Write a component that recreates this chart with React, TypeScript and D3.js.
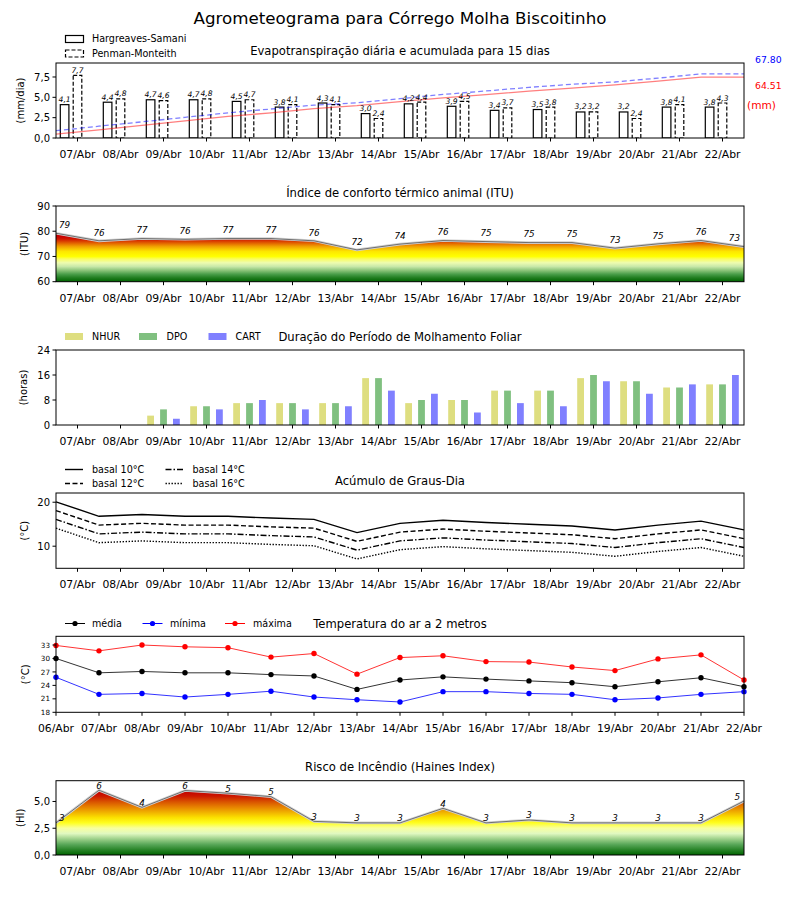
import React from 'react';
import * as d3 from 'd3';

// ---------- DATA ----------
const dayLabels = ['06/Abr','07/Abr','08/Abr','09/Abr','10/Abr','11/Abr','12/Abr','13/Abr','14/Abr','15/Abr','16/Abr','17/Abr','18/Abr','19/Abr','20/Abr','21/Abr','22/Abr'];
const forecastDays = dayLabels.slice(1);

const etHargreaves = [4.1,4.4,4.7,4.7,4.5,3.8,4.3,3.0,4.2,3.9,3.4,3.5,3.2,3.2,3.8,3.8];
const etPenman = [7.7,4.8,4.6,4.8,4.7,4.1,4.1,2.4,4.4,4.5,3.7,3.8,3.2,2.4,4.1,4.3];
const etCumHargreaves = [4.2,8.6,13.4,18.2,22.8,26.7,31.1,34.2,38.5,42.5,46.0,49.6,52.9,56.2,60.2,64.51];
const etCumPenman = [7.7,12.5,17.1,21.9,26.6,30.7,34.8,37.2,41.6,46.1,49.8,53.6,56.9,59.3,63.4,67.80];

const ituValues = [79.2,76.2,77.1,76.8,77.1,77.1,76.2,72.6,74.9,76.3,75.9,75.5,75.5,73.3,75.0,76.3,73.9];

const wetNHUR = [0,0,3,6,7,7,7,15,7,8,11,11,15,14,12,13];
const wetDPO = [0,0,5,6,7,7,7,15,8,8,11,11,16,14,12,13];
const wetCART = [0,0,2,5,8,5,6,11,10,4,7,6,14,10,13,16];

const gd10 = [20.1,16.8,17.2,16.8,16.8,16.4,16.1,13.1,15.2,15.9,15.4,15.0,14.6,13.7,14.8,15.7,13.7];
const gd12 = [18.1,14.8,15.2,14.8,14.8,14.4,14.1,11.1,13.2,13.9,13.4,13.0,12.6,11.7,12.8,13.7,11.7];
const gd14 = [16.1,12.8,13.2,12.8,12.8,12.4,12.1,9.1,11.2,11.9,11.4,11.0,10.6,9.7,10.8,11.7,9.7];
const gd16 = [14.1,10.8,11.2,10.8,10.8,10.4,10.1,7.1,9.2,9.9,9.4,9.0,8.6,7.7,8.8,9.7,7.7];

const tMean = [30.0,26.8,27.1,26.8,26.8,26.4,26.1,23.1,25.2,25.9,25.4,25.0,24.6,23.7,24.8,25.7,23.7];
const tMin = [25.8,22.0,22.2,21.4,22.0,22.7,21.4,20.8,20.3,22.6,22.6,22.2,22.0,20.8,21.2,22.0,22.6];
const tMax = [32.9,31.7,33.0,32.6,32.4,30.3,31.1,26.5,30.2,30.6,29.3,29.2,28.1,27.3,29.9,30.8,25.2];

const hainesValues = [3.0,6.05,4.45,6.02,5.77,5.45,3.14,3.0,3.0,4.36,3.0,3.27,3.0,3.0,3.0,3.0,5.04];

const etTicks = [0,2.5,5,7.5];
const ituTicks = [60,70,80,90];
const wetTicks = [0,8,16,24];
const gdTicks = [10,20];
const tTicks = [18,21,24,27,30,33];
const hainesTicks = [0,2.5,5];

const ituColors: [number,string][] = [[60,'#006400'],[61.5,'#1f7c1f'],[63,'#4a9e4a'],[64.5,'#8cc47a'],[66,'#c8e8a8'],[67.5,'#eefcb0'],[69,'#fafc60'],[70,'#ffff00'],[72,'#fde600'],[73,'#f8c400'],[74,'#f0a000'],[75,'#e67000'],[76,'#da4000'],[77,'#cf1400'],[78,'#c80000'],[90,'#c00000']];
const hainesColors: [number,string][] = [[0,'#006400'],[0.5,'#2a852a'],[1,'#5aa85a'],[1.5,'#9dd08a'],[2,'#e0f8c0'],[2.5,'#f8ffa0'],[3,'#ffff20'],[3.5,'#fbe000'],[4,'#f0b000'],[4.5,'#e68000'],[5,'#d85000'],[5.5,'#cc1800'],[6,'#c00000'],[7,'#c00000']];

// ---------- LAYOUT ----------
const FONT = 'DejaVu Sans';
const L = 56, R = 744;
const x = d3.scaleLinear().domain([0, 16]).range([L, R]);
const dx = x(1) - x(0);
const comma1 = (v: number) => v.toFixed(1).replace('.', ',');

function Frame({ top, bottom }: { top: number; bottom: number }) {
  return <rect x={L} y={top} width={R - L} height={bottom - top} fill="none" stroke="#000" strokeWidth={1} />;
}

function XAxis({ bottom, positions, labels }: { bottom: number; positions: number[]; labels: string[] }) {
  return (
    <g>
      {positions.map((p, i) => (
        <g key={i}>
          <line x1={x(p)} x2={x(p)} y1={bottom} y2={bottom + 3.5} stroke="#000" />
          <text x={x(p)} y={bottom + 20} textAnchor="middle" fontSize={10.8}>{labels[i]}</text>
        </g>
      ))}
    </g>
  );
}

function YAxis({ scale, ticks, fmt, size = 10 }: { scale: any; ticks: number[]; fmt: (v: number) => string; size?: number }) {
  return (
    <g>
      {ticks.map((t, i) => (
        <g key={i}>
          <line x1={L - 3.5} x2={L} y1={scale(t)} y2={scale(t)} stroke="#000" />
          <text x={L - 6} y={scale(t) + size * 0.36} textAnchor="end" fontSize={size}>{fmt(t)}</text>
        </g>
      ))}
    </g>
  );
}

function YLabel({ xPos, top, bottom, text }: { xPos: number; top: number; bottom: number; text: string }) {
  const cy = (top + bottom) / 2;
  return <text transform={`translate(${xPos},${cy}) rotate(-90)`} textAnchor="middle" fontSize={10} dy="0.35em">{text}</text>;
}

function Gradient({ id, scale, stops }: { id: string; scale: any; stops: [number, string][] }) {
  const d = scale.domain();
  const y1 = scale(d[0]);
  const y2 = scale(d[1]);
  return (
    <linearGradient id={id} gradientUnits="userSpaceOnUse" x1={0} x2={0} y1={y1} y2={y2}>
      {stops.map(([v, c], i) => (
        <stop key={i} offset={Math.max(0, Math.min(1, (v - d[0]) / (d[1] - d[0])))} stopColor={c} />
      ))}
    </linearGradient>
  );
}

const midTicks = forecastDays.map((_, i) => i + 0.5);
const allTicks = dayLabels.map((_, i) => i);

export default function App() {
  // ET panel
  const etTop = 63, etBot = 138;
  const yEt = d3.scaleLinear().domain([0, 9.22]).range([etBot, etTop]);
  const yCum = d3.scaleLinear().domain([0, 79.4]).range([etBot, etTop]);
  const barW = 0.2 * dx;
  const cumLine = d3.line<number>().x((_, i) => x(i)).y(v => yCum(v));
  const ext = (a: number[]) => [...a, a[a.length - 1]];

  // ITU
  const ituTop = 206, ituBot = 281.7;
  const yItu = d3.scaleLinear().domain([60, 90]).range([ituBot, ituTop]);
  const ituArea = d3.area<number>().x((_, i) => x(i)).y0(yItu(60)).y1(v => yItu(v));
  const ituLine = d3.line<number>().x((_, i) => x(i)).y(v => yItu(v));

  // Wetting
  const wTop = 350, wBot = 425;
  const yW = d3.scaleLinear().domain([0, 24]).range([wBot, wTop]);
  const wBarW = 0.158 * dx;

  // Degree-days
  const gTop = 493, gBot = 568.3;
  const yG = d3.scaleLinear().domain([4.97, 22.1]).range([gBot, gTop]);
  const gLine = d3.line<number>().x((_, i) => x(i)).y(v => yG(v));

  // Temperature
  const tTop = 636.3, tBot = 712.3;
  const yT = d3.scaleLinear().domain([18, 34.94]).range([tBot, tTop]);
  const tLine = d3.line<number>().x((_, i) => x(i)).y(v => yT(v));

  // Haines
  const hTop = 780.7, hBot = 855;
  const yH = d3.scaleLinear().domain([0, 6.94]).range([hBot, hTop]);
  const hArea = d3.area<number>().x((_, i) => x(i)).y0(yH(0)).y1(v => yH(v));
  const hLine = d3.line<number>().x((_, i) => x(i)).y(v => yH(v));

  const pointLabelX = (i: number, n: number) => (i === 0 ? x(i) + 3 : i === n - 1 ? x(i) - 4 : x(i));
  const pointLabelAnchor = (i: number, n: number) => (i === 0 ? 'start' : i === n - 1 ? 'end' : 'middle');

  return (
    <svg width={800} height={900} style={{ position: 'absolute', left: 0, top: 0, background: '#fff' }} fontFamily={FONT}>
      <defs>
        <clipPath id="clipEt"><rect x={L} y={etTop} width={R - L} height={etBot - etTop} /></clipPath>
        <Gradient id="gItu" scale={yItu} stops={ituColors} />
        <Gradient id="gHaines" scale={yH} stops={hainesColors} />
      </defs>
      <rect x={0} y={0} width={800} height={900} fill="#fff" />

      <text x={400} y={24} textAnchor="middle" fontSize={16.7}>Agrometeograma para Córrego Molha Biscoitinho</text>

      {/* ---------- ET ---------- */}
      <text x={400} y={55} textAnchor="middle" fontSize={11.6}>Evapotranspiração diária e acumulada para 15 dias</text>
      <rect x={65.5} y={35.5} width={18} height={7} fill="#fff" stroke="#000" strokeWidth={1.2} />
      <text x={92} y={42.3} fontSize={9.6}>Hargreaves-Samani</text>
      <rect x={65.5} y={50} width={18} height={7} fill="#fff" stroke="#000" strokeWidth={1.2} strokeDasharray="4,2" />
      <text x={92} y={56.8} fontSize={9.6}>Penman-Monteith</text>
      <g clipPath="url(#clipEt)">
        {etHargreaves.map((v, i) => (
          <rect key={'h' + i} x={x(i + 0.2) - barW / 2} y={yEt(v)} width={barW} height={etBot - yEt(v)} fill="#fff" stroke="#000" strokeWidth={1.2} />
        ))}
        {etPenman.map((v, i) => (
          <rect key={'p' + i} x={x(i + 0.5) - barW / 2} y={yEt(v)} width={barW} height={etBot - yEt(v)} fill="#fff" stroke="#000" strokeWidth={1.2} strokeDasharray="4,2" />
        ))}
        <path d={cumLine(ext(etCumHargreaves)) || ''} fill="none" stroke="#ff0000" strokeOpacity={0.5} strokeWidth={1.3} />
        <path d={cumLine(ext(etCumPenman)) || ''} fill="none" stroke="#0000ff" strokeOpacity={0.5} strokeWidth={1.3} strokeDasharray="5,3" />
      </g>
      {etHargreaves.map((v, i) => (
        <text key={'ht' + i} x={x(i + 0.2)} y={yEt(v) - 2.5} textAnchor="middle" fontSize={7.6} fontStyle="italic">{comma1(v)}</text>
      ))}
      {etPenman.map((v, i) => (
        <text key={'pt' + i} x={x(i + 0.5)} y={yEt(v) - 2.5} textAnchor="middle" fontSize={7.6} fontStyle="italic">{comma1(v)}</text>
      ))}
      <Frame top={etTop} bottom={etBot} />
      <YAxis scale={yEt} ticks={etTicks} fmt={comma1} />
      <XAxis bottom={etBot} positions={midTicks} labels={forecastDays} />
      <YLabel xPos={20} top={etTop} bottom={etBot} text="(mm/dia)" />
      <text x={755} y={63} fontSize={9.3} fill="#0000ff">{etCumPenman[etCumPenman.length - 1].toFixed(2)}</text>
      <text x={755} y={89} fontSize={9.3} fill="#ff0000">{etCumHargreaves[etCumHargreaves.length - 1].toFixed(2)}</text>
      <text x={747} y={109} fontSize={10.6} fill="#ff0000">(mm)</text>

      {/* ---------- ITU ---------- */}
      <text x={400} y={197} textAnchor="middle" fontSize={11.6}>Índice de conforto térmico animal (ITU)</text>
      <path d={ituArea(ituValues) || ''} fill="url(#gItu)" />
      <path d={ituLine(ituValues) || ''} fill="none" stroke="#d0d0d0" strokeWidth={2.6} />
      <path d={ituLine(ituValues) || ''} fill="none" stroke="#707070" strokeWidth={1} />
      {ituValues.map((v, i) => (
        <text key={'it' + i} x={pointLabelX(i, ituValues.length)} y={yItu(v) - 5.3} textAnchor={pointLabelAnchor(i, ituValues.length)} fontSize={8.8} fontStyle="italic">{Math.trunc(v)}</text>
      ))}
      <Frame top={ituTop} bottom={ituBot} />
      <YAxis scale={yItu} ticks={ituTicks} fmt={v => String(v)} />
      <XAxis bottom={ituBot} positions={midTicks} labels={forecastDays} />
      <YLabel xPos={24} top={ituTop} bottom={ituBot} text="(ITU)" />

      {/* ---------- Wetting ---------- */}
      <text x={400} y={341} textAnchor="middle" fontSize={11.6}>Duração do Período de Molhamento Foliar</text>
      <rect x={65} y={333} width={18} height={7} fill="#dede80" />
      <text x={92} y={340.3} fontSize={9.6}>NHUR</text>
      <rect x={139} y={333} width={18} height={7} fill="#80c080" />
      <text x={166.5} y={340.3} fontSize={9.6}>DPO</text>
      <rect x={208.5} y={333} width={18} height={7} fill="#8080ff" />
      <text x={235.5} y={340.3} fontSize={9.6}>CART</text>
      {wetNHUR.map((v, i) => (
        <rect key={'n' + i} x={x(i + 0.2) - wBarW / 2} y={yW(v)} width={wBarW} height={wBot - yW(v)} fill="#dede80" />
      ))}
      {wetDPO.map((v, i) => (
        <rect key={'d' + i} x={x(i + 0.5) - wBarW / 2} y={yW(v)} width={wBarW} height={wBot - yW(v)} fill="#80c080" />
      ))}
      {wetCART.map((v, i) => (
        <rect key={'c' + i} x={x(i + 0.8) - wBarW / 2} y={yW(v)} width={wBarW} height={wBot - yW(v)} fill="#8080ff" />
      ))}
      <Frame top={wTop} bottom={wBot} />
      <YAxis scale={yW} ticks={wetTicks} fmt={v => String(v)} />
      <XAxis bottom={wBot} positions={midTicks} labels={forecastDays} />
      <YLabel xPos={23} top={wTop} bottom={wBot} text="(horas)" />

      {/* ---------- Degree-days ---------- */}
      <text x={400} y={485} textAnchor="middle" fontSize={11.6}>Acúmulo de Graus-Dia</text>
      <line x1={65} x2={83} y1={469.5} y2={469.5} stroke="#000" strokeWidth={1.4} />
      <text x={92} y={473} fontSize={9.6}>basal 10°C</text>
      <line x1={65} x2={83} y1={483.5} y2={483.5} stroke="#000" strokeWidth={1.4} strokeDasharray="5,2.5" />
      <text x={92} y={487} fontSize={9.6}>basal 12°C</text>
      <line x1={165.5} x2={183.5} y1={469.5} y2={469.5} stroke="#000" strokeWidth={1.4} strokeDasharray="6,2,1.5,2" />
      <text x={192.5} y={473} fontSize={9.6}>basal 14°C</text>
      <line x1={165.5} x2={183.5} y1={483.5} y2={483.5} stroke="#000" strokeWidth={1.4} strokeDasharray="1.4,1.6" />
      <text x={192.5} y={487} fontSize={9.6}>basal 16°C</text>
      <path d={gLine(gd10) || ''} fill="none" stroke="#000" strokeWidth={1.4} />
      <path d={gLine(gd12) || ''} fill="none" stroke="#000" strokeWidth={1.4} strokeDasharray="5,2.5" />
      <path d={gLine(gd14) || ''} fill="none" stroke="#000" strokeWidth={1.4} strokeDasharray="6,2,1.5,2" />
      <path d={gLine(gd16) || ''} fill="none" stroke="#000" strokeWidth={1.4} strokeDasharray="1.4,1.6" />
      <Frame top={gTop} bottom={gBot} />
      <YAxis scale={yG} ticks={gdTicks} fmt={v => String(v)} />
      <XAxis bottom={gBot} positions={midTicks} labels={forecastDays} />
      <YLabel xPos={24} top={gTop} bottom={gBot} text="(°C)" />

      {/* ---------- Temperature ---------- */}
      <text x={400} y={628} textAnchor="middle" fontSize={11.6}>Temperatura do ar a 2 metros</text>
      {[
        { lx: 65, tx: 92, color: '#000', label: 'média' },
        { lx: 142.5, tx: 170, color: '#0000ff', label: 'mínima' },
        { lx: 225, tx: 253, color: '#ff0000', label: 'máxima' },
      ].map((l, i) => (
        <g key={'tl' + i}>
          <line x1={l.lx} x2={l.lx + 20} y1={623.5} y2={623.5} stroke={l.color} strokeWidth={1} />
          <circle cx={l.lx + 10} cy={623.5} r={2.6} fill={l.color} />
          <text x={l.tx} y={627} fontSize={9.6}>{l.label}</text>
        </g>
      ))}
      {[
        { data: tMean, color: '#000' },
        { data: tMin, color: '#0000ff' },
        { data: tMax, color: '#ff0000' },
      ].map((s, k) => (
        <g key={'ts' + k}>
          <path d={tLine(s.data) || ''} fill="none" stroke={s.color} strokeOpacity={0.8} strokeWidth={1} />
          {s.data.map((v, i) => (
            <circle key={i} cx={x(i)} cy={yT(v)} r={2.7} fill={s.color} />
          ))}
        </g>
      ))}
      <Frame top={tTop} bottom={tBot} />
      <YAxis scale={yT} ticks={tTicks} fmt={v => String(v)} size={7.2} />
      <XAxis bottom={tBot} positions={allTicks} labels={dayLabels} />
      <YLabel xPos={25} top={tTop} bottom={tBot} text="(°C)" />

      {/* ---------- Haines ---------- */}
      <text x={400} y={771} textAnchor="middle" fontSize={11.6}>Risco de Incêndio (Haines Index)</text>
      <path d={hArea(hainesValues) || ''} fill="url(#gHaines)" />
      <path d={hLine(hainesValues) || ''} fill="none" stroke="#d0d0d0" strokeWidth={2.6} />
      <path d={hLine(hainesValues) || ''} fill="none" stroke="#707070" strokeWidth={1} />
      {hainesValues.map((v, i) => (
        <text key={'hv' + i} x={pointLabelX(i, hainesValues.length)} y={yH(v) - 1.5} textAnchor={pointLabelAnchor(i, hainesValues.length)} fontSize={8.8} fontStyle="italic">{Math.trunc(v)}</text>
      ))}
      <Frame top={hTop} bottom={hBot} />
      <YAxis scale={yH} ticks={hainesTicks} fmt={comma1} />
      <XAxis bottom={hBot} positions={midTicks} labels={forecastDays} />
      <YLabel xPos={20.5} top={hTop} bottom={hBot} text="(HI)" />
    </svg>
  );
}
